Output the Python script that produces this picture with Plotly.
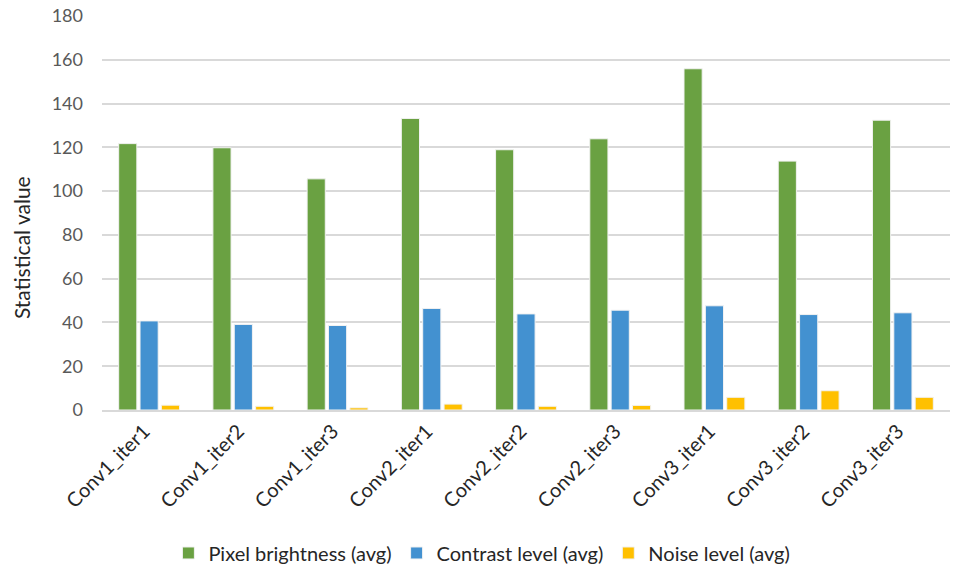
import plotly.graph_objects as go

# Categories and per-series averages
categories = ["Conv1_iter1", "Conv1_iter2", "Conv1_iter3",
              "Conv2_iter1", "Conv2_iter2", "Conv2_iter3",
              "Conv3_iter1", "Conv3_iter2", "Conv3_iter3"]
pixel_brightness = [121.7, 119.8, 105.6, 133.2, 118.9, 123.9, 155.9, 113.7, 132.4]
contrast_level = [40.7, 39.1, 38.6, 46.4, 43.9, 45.6, 47.6, 43.6, 44.4]
noise_level = [2.2, 1.7, 1.0, 2.7, 1.7, 2.1, 5.8, 8.8, 5.8]

series_names = ["Pixel brightness (avg)", "Contrast level (avg)", "Noise level (avg)"]
series_colors = ["#6AA142", "#4391D0", "#FFC000"]
y_ticks = [0, 20, 40, 60, 80, 100, 120, 140, 160, 180]
y_title = "Statistical value"

FONT = "Lato, 'Open Sans', sans-serif"

fig = go.Figure()
for name, vals, color in zip(series_names,
                             [pixel_brightness, contrast_level, noise_level],
                             series_colors):
    fig.add_trace(go.Bar(
        x=categories, y=vals, name=name,
        marker=dict(color=color, line=dict(color="#F2F2F2", width=1)),
    ))

fig.update_layout(
    width=960, height=566,
    margin=dict(l=102, r=10, t=16, b=155.5, autoexpand=False),
    paper_bgcolor="white", plot_bgcolor="white",
    barmode="group", bargap=0.32, bargroupgap=0.15,
    font=dict(family=FONT, size=16, color="#262626"),
    legend=dict(
        orientation="h", x=0.448, xanchor="center",
        yref="container", y=0.023, yanchor="middle",
        font=dict(family=FONT, size=20, color="#262626"),
        itemwidth=30,
    ),
    showlegend=True,
)

# vertical axis title, placed as a rotated label left of the tick labels
fig.add_annotation(
    text=y_title, textangle=-90,
    xref="paper", yref="paper", x=-0.095, y=0.412,
    xanchor="center", yanchor="middle", showarrow=False,
    font=dict(family=FONT, size=21, color="#262626"),
)

fig.update_xaxes(
    tickangle=-45, automargin=False,
    tickfont=dict(family=FONT, size=20, color="#262626"),
    ticklabelshift=-5,
    showline=True, linecolor="#D9D9D9", linewidth=1.5,
    showgrid=False, ticks="",
)
fig.update_yaxes(
    range=[0, 180], tickvals=y_ticks, automargin=False,
    tickfont=dict(family=FONT, size=18, color="#595959"),
    showgrid=True, gridcolor="#D9D9D9", gridwidth=1.5,
    zeroline=False, showline=False, ticks="",
    ticklabelstandoff=18,
)

fig.write_html("out.html")
